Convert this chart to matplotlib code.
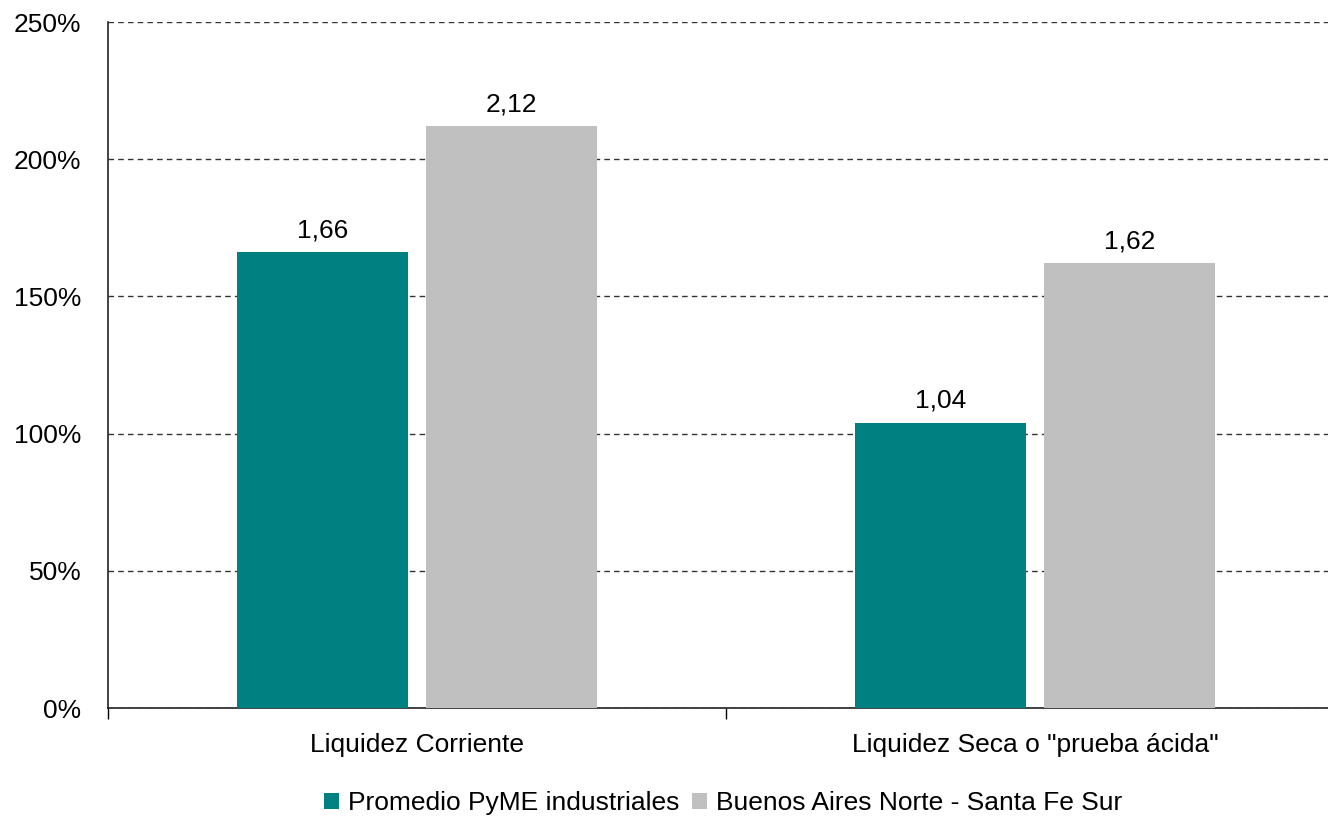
import matplotlib
matplotlib.use("Agg")
import matplotlib.pyplot as plt
import numpy as np

plt.rcParams['font.family'] = ['Liberation Sans', 'DejaVu Sans']

# data
categories = ['Liquidez Corriente', 'Liquidez Seca o "prueba ácida"']
series_names = ['Promedio PyME industriales', 'Buenos Aires Norte - Santa Fe Sur']
promedio_pyme = [1.66, 1.04]
ba_norte_sf_sur = [2.12, 1.62]
y_ticks = [0, 50, 100, 150, 200, 250]

teal = '#008080'
grey = '#C0C0C0'

fig = plt.figure(figsize=(13.28, 8.19), dpi=100)
# axes runs a bit past the right edge, like the original
ax = fig.add_axes([108/1328, 1-708/819, (1344-108)/1328, (708-22)/819])

x = np.arange(len(categories))
w = 0.278
off = 0.153
vals1 = [v*100 for v in promedio_pyme]
vals2 = [v*100 for v in ba_norte_sf_sur]
b1 = ax.bar(x-off, vals1, w, color=teal, label=series_names[0], zorder=3)
b2 = ax.bar(x+off, vals2, w, color=grey, label=series_names[1], zorder=3)

# value labels with comma decimals
for bars, raw in ((b1, promedio_pyme), (b2, ba_norte_sf_sur)):
    for rect, v in zip(bars, raw):
        ax.annotate(f"{v:.2f}".replace('.', ','),
                    (rect.get_x()+rect.get_width()/2, rect.get_height()),
                    xytext=(0, 7), textcoords='offset points',
                    ha='center', va='bottom', fontsize=19)

ax.set_xlim(-0.5, 1.5)
ax.set_ylim(0, 250)
ax.set_yticks(y_ticks)
ax.set_yticklabels([f"{t}%" for t in y_ticks])
ax.tick_params(axis='y', length=0, pad=19, labelsize=19)

# boundary ticks on x, labels at category centers
ax.set_xticks([-0.5, 0.5, 1.5])
ax.set_xticklabels([])
ax.tick_params(axis='x', which='major', length=8, width=1, direction='out')
ax.set_xticks(x, minor=True)
ax.set_xticklabels(categories, minor=True)
ax.tick_params(axis='x', which='minor', length=0, pad=18, labelsize=19)

ax.yaxis.grid(True, linestyle=(0, (4, 3)), color='#333333', linewidth=1, zorder=0)
ax.set_axisbelow(True)
for s in ('top', 'right'):
    ax.spines[s].set_visible(False)
for s in ('left', 'bottom'):
    ax.spines[s].set_linewidth(1.2)
    ax.spines[s].set_color('#222222')

fig.legend(handles=[b1, b2], loc='center', bbox_to_anchor=(723/1328, 1-803/819),
           ncol=2, frameon=False, fontsize=19, handlelength=0.57, handleheight=0.57,
           handletextpad=0.35, columnspacing=0.45, borderpad=0)

fig.savefig('out.png', dpi=100)
